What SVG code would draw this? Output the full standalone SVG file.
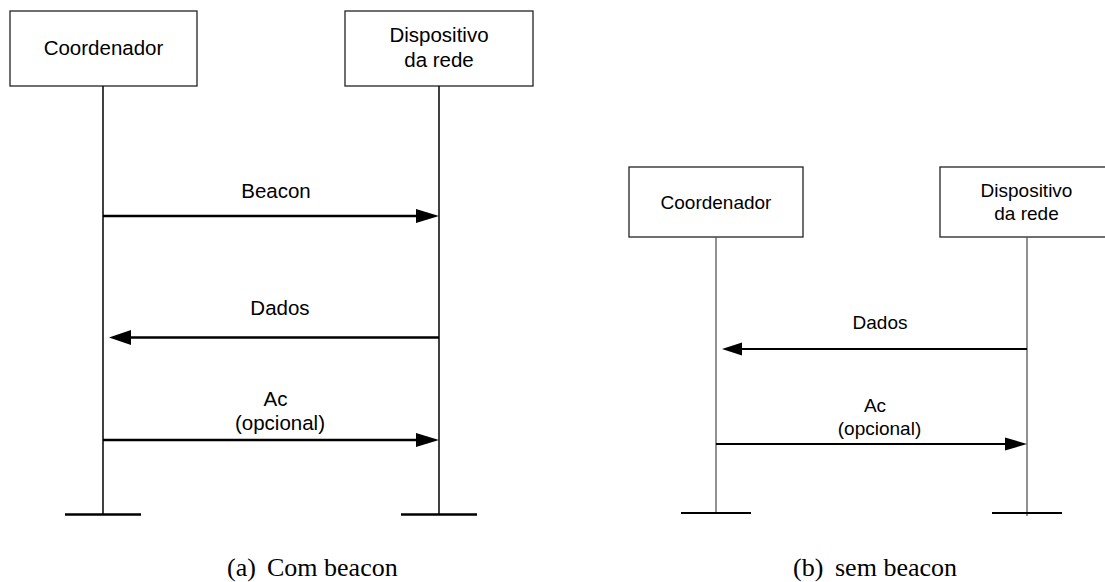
<svg xmlns="http://www.w3.org/2000/svg" width="1105" height="582" viewBox="0 0 1105 582">
<style>
.box{fill:#fff;stroke:#222;stroke-width:1.3}
.t{font-family:"Liberation Sans",Arial,sans-serif;fill:#000;text-anchor:middle}
.ta{font-size:20.5px}
.tb{font-size:19px}
.life-a{stroke:#111;stroke-width:1.6;fill:none}
.life-b{stroke:#555;stroke-width:1.3;fill:none}
.msg-a{stroke:#000;stroke-width:2.6;fill:none}
.msg-b{stroke:#000;stroke-width:2;fill:none}
.bar-a{stroke:#000;stroke-width:2.6}
.bar-b{stroke:#000;stroke-width:2}
.head{fill:#000}
.cap{font-family:"Liberation Serif","Times New Roman",serif;font-size:26px;fill:#000}
</style>
<rect width="1105" height="582" fill="#fff"/>

<!-- Diagram (a) -->
<g id="a-coordenador">
  <rect class="box" x="10" y="11" width="187" height="75"/>
  <text class="t ta" x="103.5" y="55">Coordenador</text>
</g>
<g id="a-dispositivo">
  <rect class="box" x="345" y="11" width="188" height="75"/>
  <text class="t ta" x="439" y="42">Dispositivo</text>
  <text class="t ta" x="439" y="67">da rede</text>
</g>
<g id="a-connectors">
  <line class="life-a" x1="103" y1="86" x2="103" y2="514"/>
  <line class="life-a" x1="439" y1="86" x2="439" y2="514"/>
  <line class="bar-a" x1="65" y1="514.5" x2="141" y2="514.5"/>
  <line class="bar-a" x1="401" y1="514.5" x2="477" y2="514.5"/>
  <line class="msg-a" x1="103" y1="216" x2="418" y2="216"/>
  <polygon class="head" points="416,209 439,216 416,223"/>
  <text class="t ta" x="276" y="198">Beacon</text>
  <line class="msg-a" x1="439" y1="337.5" x2="129" y2="337.5"/>
  <polygon class="head" points="131,330 109,337.5 131,345"/>
  <text class="t ta" x="280" y="315">Dados</text>
  <line class="msg-a" x1="103" y1="440" x2="418" y2="440"/>
  <polygon class="head" points="416,433 439,440 416,447"/>
  <text class="t ta" x="275.5" y="406">Ac</text>
  <text class="t ta" x="280" y="430">(opcional)</text>
</g>
<g id="caption-a">
  <text class="cap" x="227" y="576">(a)</text>
  <text class="cap" x="267" y="576">Com beacon</text>
</g>

<!-- Diagram (b) -->
<g id="b-coordenador">
  <rect class="box" x="629" y="167" width="174" height="70"/>
  <text class="t tb" x="716" y="209">Coordenador</text>
</g>
<g id="b-dispositivo">
  <rect class="box" x="940" y="167" width="174" height="70"/>
  <text class="t tb" x="1026.5" y="197">Dispositivo</text>
  <text class="t tb" x="1026.5" y="220">da rede</text>
</g>
<g id="b-connectors">
  <line class="life-b" x1="716" y1="237" x2="716" y2="513"/>
  <line class="life-b" x1="1027" y1="237" x2="1027" y2="516"/>
  <line class="bar-b" x1="681" y1="513" x2="751" y2="513"/>
  <line class="bar-b" x1="992" y1="513" x2="1062" y2="513"/>
  <line class="msg-b" x1="1027" y1="349" x2="740" y2="349"/>
  <polygon class="head" points="742,342.5 722,349 742,355.5"/>
  <text class="t tb" x="880" y="329">Dados</text>
  <line class="msg-b" x1="716" y1="444" x2="1007" y2="444"/>
  <polygon class="head" points="1005,437.5 1027,444 1005,450.5"/>
  <text class="t tb" x="875" y="412">Ac</text>
  <text class="t tb" x="879.5" y="435">(opcional)</text>
</g>
<g id="caption-b">
  <text class="cap" x="793" y="576">(b)</text>
  <text class="cap" x="835" y="576">sem beacon</text>
</g>
</svg>
